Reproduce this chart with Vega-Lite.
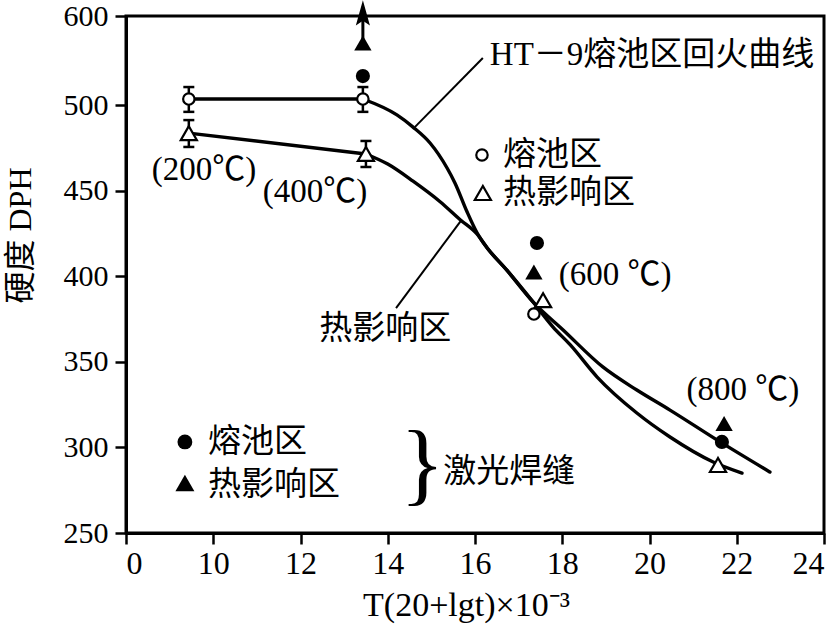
{
  "$schema": "https://vega.github.io/schema/vega-lite/v6.json",
  "width": 698,
  "height": 517,
  "autosize": {"type": "none"},
  "padding": {"left": 126, "top": 16, "right": 14, "bottom": 103},
  "background": "white",
  "config": {
    "font": "Liberation Serif, Noto Sans CJK SC",
    "view": {"stroke": "black", "strokeWidth": 3},
    "axis": {
      "grid": false,
      "domainColor": "black",
      "domainWidth": 3,
      "tickColor": "black",
      "tickWidth": 2.5,
      "tickSize": 11,
      "labelColor": "black",
      "titleColor": "black",
      "titleFontWeight": "normal"
    }
  },
  "data": {
    "values": [
      {"kind": "straight", "series": "melt", "x": 9.44, "y": 503.5},
      {"kind": "straight", "series": "melt", "x": 13.43, "y": 503.5},
      {"kind": "straight", "series": "haz", "x": 9.44, "y": 483.6},
      {"kind": "straight", "series": "haz", "x": 13.5, "y": 471.4},
      {"kind": "curve", "series": "melt", "x": 13.43, "y": 503.5},
      {"kind": "curve", "series": "melt", "x": 14.21, "y": 494.2},
      {"kind": "curve", "series": "melt", "x": 14.58, "y": 487.1},
      {"kind": "curve", "series": "melt", "x": 14.97, "y": 477.8},
      {"kind": "curve", "series": "melt", "x": 15.36, "y": 463.2},
      {"kind": "curve", "series": "melt", "x": 15.54, "y": 454.5},
      {"kind": "curve", "series": "melt", "x": 15.82, "y": 437.5},
      {"kind": "curve", "series": "melt", "x": 16.05, "y": 425.2},
      {"kind": "curve", "series": "melt", "x": 16.28, "y": 416.5},
      {"kind": "curve", "series": "melt", "x": 16.73, "y": 403.5},
      {"kind": "curve", "series": "melt", "x": 17.33, "y": 385},
      {"kind": "curve", "series": "melt", "x": 18.02, "y": 368.6},
      {"kind": "curve", "series": "melt", "x": 18.93, "y": 347},
      {"kind": "curve", "series": "melt", "x": 19.71, "y": 333.5},
      {"kind": "curve", "series": "melt", "x": 20.47, "y": 321.8},
      {"kind": "curve", "series": "melt", "x": 21.62, "y": 303.2},
      {"kind": "curve", "series": "melt", "x": 22.76, "y": 285.6},
      {"kind": "curve", "series": "haz", "x": 13.5, "y": 471.4},
      {"kind": "curve", "series": "haz", "x": 14.0, "y": 465.5},
      {"kind": "curve", "series": "haz", "x": 14.58, "y": 455.5},
      {"kind": "curve", "series": "haz", "x": 15.2, "y": 443.5},
      {"kind": "curve", "series": "haz", "x": 15.66, "y": 433},
      {"kind": "curve", "series": "haz", "x": 16.05, "y": 424.5},
      {"kind": "curve", "series": "haz", "x": 16.28, "y": 416.5},
      {"kind": "curve", "series": "haz", "x": 16.73, "y": 403.5},
      {"kind": "curve", "series": "haz", "x": 17.33, "y": 385},
      {"kind": "curve", "series": "haz", "x": 17.79, "y": 370.3},
      {"kind": "curve", "series": "haz", "x": 18.18, "y": 360},
      {"kind": "curve", "series": "haz", "x": 18.8, "y": 341.1},
      {"kind": "curve", "series": "haz", "x": 19.71, "y": 320.1},
      {"kind": "curve", "series": "haz", "x": 20.47, "y": 306.1},
      {"kind": "curve", "series": "haz", "x": 21.46, "y": 291.5},
      {"kind": "curve", "series": "haz", "x": 22.12, "y": 285},
      {"kind": "pointer", "x": 16.18, "y": 527.5, "x2": 14.62, "y2": 487.1},
      {"kind": "pointer", "x": 14.19, "y": 381.4, "x2": 15.68, "y2": 432.5},
      {"kind": "stem", "x": 13.43, "y": 536.2, "y2": 551},
      {"kind": "arrowhead", "x": 13.43, "y": 552},
      {"kind": "err", "x": 9.44, "y": 496, "hi": 510.5},
      {"kind": "err", "x": 13.43, "y": 496, "hi": 510.5},
      {"kind": "err", "x": 9.44, "y": 475.5, "hi": 491.2},
      {"kind": "err", "x": 13.5, "y": 463.8, "hi": 479},
      {"kind": "cap", "x": 9.44, "y": 496},
      {"kind": "cap", "x": 9.44, "y": 510.5},
      {"kind": "cap", "x": 13.43, "y": 496},
      {"kind": "cap", "x": 13.43, "y": 510.5},
      {"kind": "cap", "x": 9.44, "y": 475.5},
      {"kind": "cap", "x": 9.44, "y": 491.2},
      {"kind": "cap", "x": 13.5, "y": 463.8},
      {"kind": "cap", "x": 13.5, "y": 479},
      {"kind": "oc", "x": 9.44, "y": 503.5},
      {"kind": "oc", "x": 13.43, "y": 503.5},
      {"kind": "oc", "x": 17.35, "y": 377.9},
      {"kind": "ot", "x": 9.44, "y": 483.6},
      {"kind": "ot", "x": 13.5, "y": 471.4},
      {"kind": "ot", "x": 17.56, "y": 386},
      {"kind": "ot", "x": 21.57, "y": 289.7},
      {"kind": "sc", "x": 13.43, "y": 516.9},
      {"kind": "sc", "x": 17.42, "y": 419.4},
      {"kind": "sc", "x": 21.66, "y": 303.2},
      {"kind": "st", "x": 13.43, "y": 536.2},
      {"kind": "st", "x": 17.35, "y": 402.5},
      {"kind": "st", "x": 21.71, "y": 314},
      {"kind": "loc", "x": 16.16, "y": 470.8},
      {"kind": "lot", "x": 16.18, "y": 448.6},
      {"kind": "lsc", "x": 9.35, "y": 303.2},
      {"kind": "lst", "x": 9.35, "y": 279.2},
      {"kind": "ctext", "x": 9.79, "y": 462, "label": "(200℃)"},
      {"kind": "ctext", "x": 12.33, "y": 449.2, "label": "(400℃)"},
      {"kind": "ctext", "x": 19.21, "y": 400.7, "label": "(600 ℃)"},
      {"kind": "ctext", "x": 22.14, "y": 333.5, "label": "(800 ℃)"},
      {"kind": "ctext", "x": 13.94, "y": 369.2, "label": "热影响区"},
      {"kind": "ltext", "x": 16.34, "y": 529.2, "label": "HT－9熔池区回火曲线"},
      {"kind": "ltext", "x": 16.64, "y": 470.8, "label": "熔池区"},
      {"kind": "ltext", "x": 16.64, "y": 448.6, "label": "热影响区"},
      {"kind": "ltext", "x": 9.88, "y": 303.2, "label": "熔池区"},
      {"kind": "ltext", "x": 9.88, "y": 278, "label": "热影响区"},
      {"kind": "ltext", "x": 15.27, "y": 285.6, "label": "激光焊缝"},
      {"kind": "brace", "x": 14.79, "y": 289.1, "label": "}"}
    ]
  },
  "encoding": {
    "x": {
      "field": "x",
      "type": "quantitative",
      "scale": {"domain": [8, 24], "nice": false, "zero": false},
      "axis": {
        "values": [8, 10, 12, 14, 16, 18, 20, 22, 24],
        "labelExpr": "datum.value < 9 ? '0' : datum.label",
        "labelFont": "Liberation Serif",
        "labelFontSize": 32,
        "labelPadding": 4,
        "title": "T(20+lgt)×10⁻³",
        "titleFont": "Liberation Serif",
        "titleFontSize": 34,
        "titleX": 340,
        "titleY": 72,
        "titleBaseline": "middle",
        "titleAlign": "center"
      }
    },
    "y": {
      "field": "y",
      "type": "quantitative",
      "scale": {"domain": [250, 552], "nice": false, "zero": false},
      "axis": {
        "values": [250, 300, 350, 400, 450, 500, 552],
        "labelExpr": "datum.value > 540 ? '600' : datum.label",
        "labelFont": "Liberation Serif",
        "labelFontSize": 30,
        "labelPadding": 7,
        "title": "硬度  DPH",
        "titleFont": "Liberation Serif, Noto Sans CJK SC",
        "titleFontSize": 32,
        "titleX": -106,
        "titleY": 219,
        "titleBaseline": "middle",
        "titleAlign": "center"
      }
    }
  },
  "layer": [
    {
      "transform": [{"filter": "datum.kind === 'straight'"}],
      "mark": {"type": "line", "interpolate": "linear", "color": "black", "strokeWidth": 3.4, "strokeCap": "round"},
      "encoding": {"detail": {"field": "series"}}
    },
    {
      "transform": [{"filter": "datum.kind === 'curve'"}],
      "mark": {"type": "line", "interpolate": "monotone", "color": "black", "strokeWidth": 3.4, "strokeCap": "round"},
      "encoding": {"detail": {"field": "series"}}
    },
    {
      "transform": [{"filter": "datum.kind === 'pointer'"}],
      "mark": {"type": "rule", "color": "black", "strokeWidth": 2},
      "encoding": {
        "x2": {"field": "x2"},
        "y2": {"field": "y2"}
      }
    },
    {
      "transform": [{"filter": "datum.kind === 'stem'"}],
      "mark": {"type": "rule", "color": "black", "strokeWidth": 3},
      "encoding": {"y2": {"field": "y2"}}
    },
    {
      "transform": [{"filter": "datum.kind === 'arrowhead'"}],
      "mark": {"type": "point", "shape": "M0,-1L0.45,0.6L0,0.3L-0.45,0.6Z", "filled": true, "color": "black", "size": 980, "opacity": 1}
    },
    {
      "transform": [{"filter": "datum.kind === 'err'"}],
      "mark": {"type": "rule", "color": "black", "strokeWidth": 2.5},
      "encoding": {"y2": {"field": "hi"}}
    },
    {
      "transform": [{"filter": "datum.kind === 'cap'"}],
      "mark": {"type": "tick", "orient": "horizontal", "color": "black", "size": 11, "thickness": 2.5, "opacity": 1}
    },
    {
      "transform": [{"filter": "datum.kind === 'oc'"}],
      "mark": {"type": "point", "shape": "circle", "filled": false, "fill": "white", "stroke": "black", "strokeWidth": 2.2, "size": 130, "opacity": 1, "fillOpacity": 1}
    },
    {
      "transform": [{"filter": "datum.kind === 'ot'"}],
      "mark": {"type": "point", "shape": "triangle-up", "filled": false, "fill": "white", "stroke": "black", "strokeWidth": 2.2, "size": 260, "opacity": 1, "fillOpacity": 1}
    },
    {
      "transform": [{"filter": "datum.kind === 'sc'"}],
      "mark": {"type": "point", "shape": "circle", "filled": true, "color": "black", "size": 200, "opacity": 1}
    },
    {
      "transform": [{"filter": "datum.kind === 'st'"}],
      "mark": {"type": "point", "shape": "triangle-up", "filled": true, "color": "black", "size": 300, "opacity": 1}
    },
    {
      "transform": [{"filter": "datum.kind === 'loc'"}],
      "mark": {"type": "point", "shape": "circle", "filled": false, "stroke": "black", "strokeWidth": 2.2, "size": 130, "opacity": 1}
    },
    {
      "transform": [{"filter": "datum.kind === 'lot'"}],
      "mark": {"type": "point", "shape": "triangle-up", "filled": false, "stroke": "black", "strokeWidth": 2.2, "size": 260, "opacity": 1}
    },
    {
      "transform": [{"filter": "datum.kind === 'lsc'"}],
      "mark": {"type": "point", "shape": "circle", "filled": true, "color": "black", "size": 220, "opacity": 1}
    },
    {
      "transform": [{"filter": "datum.kind === 'lst'"}],
      "mark": {"type": "point", "shape": "triangle-up", "filled": true, "color": "black", "size": 360, "opacity": 1}
    },
    {
      "transform": [{"filter": "datum.kind === 'ctext'"}],
      "mark": {"type": "text", "align": "center", "baseline": "middle", "fontSize": 33, "color": "black", "font": "Liberation Serif, Noto Sans CJK SC"},
      "encoding": {"text": {"field": "label"}}
    },
    {
      "transform": [{"filter": "datum.kind === 'ltext'"}],
      "mark": {"type": "text", "align": "left", "baseline": "middle", "fontSize": 33, "color": "black", "font": "Liberation Serif, Noto Sans CJK SC"},
      "encoding": {"text": {"field": "label"}}
    },
    {
      "transform": [{"filter": "datum.kind === 'brace'"}],
      "mark": {"type": "text", "align": "center", "baseline": "middle", "fontSize": 92, "color": "black", "font": "Liberation Serif"},
      "encoding": {"text": {"field": "label"}}
    }
  ]
}
